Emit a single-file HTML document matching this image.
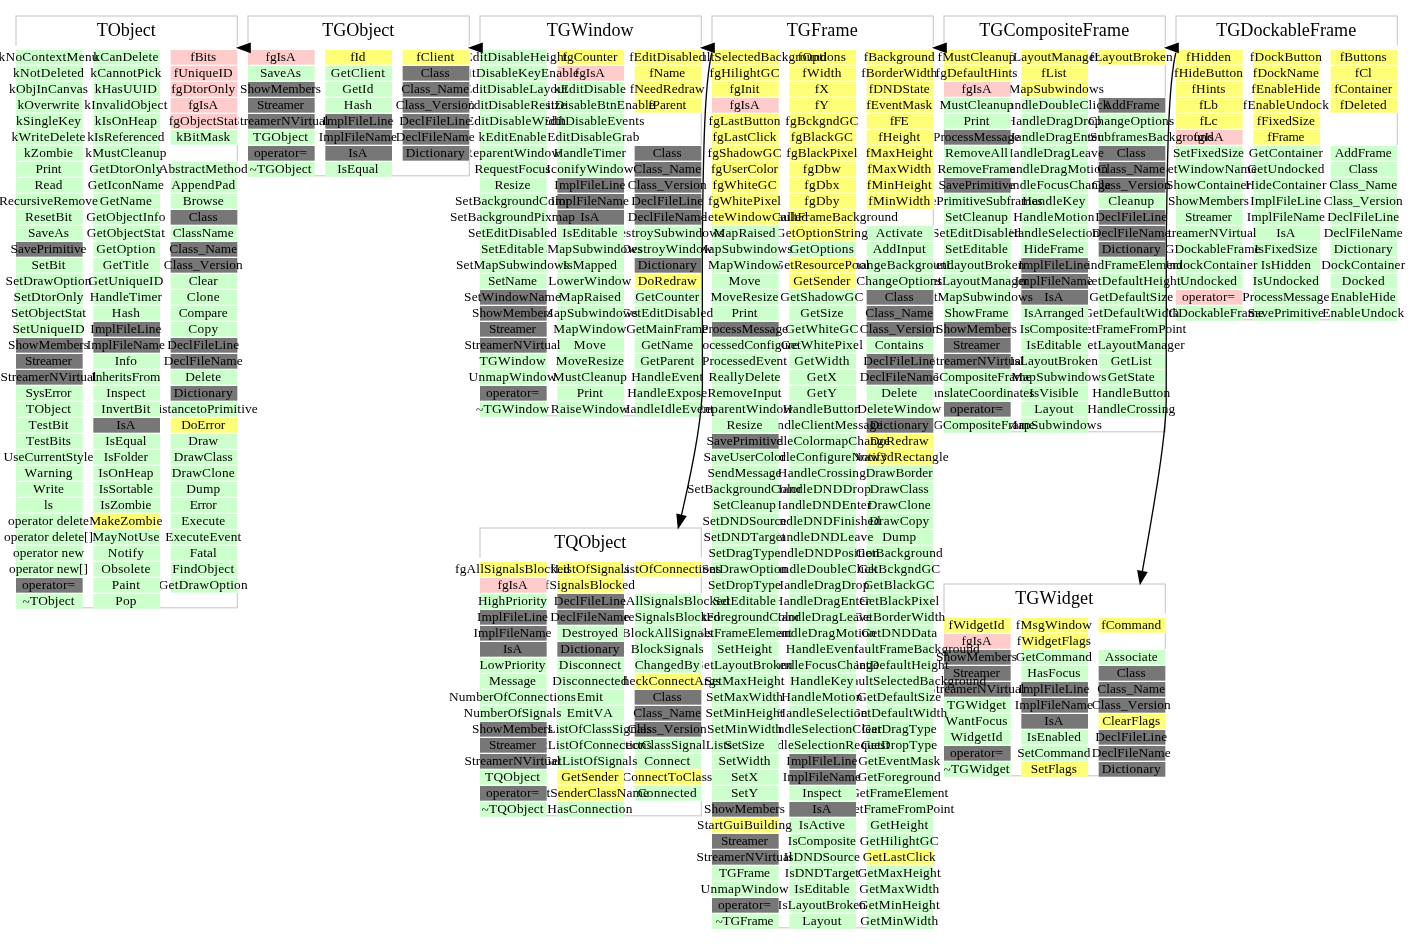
<!DOCTYPE html>
<html lang="en">
<head>
<meta charset="utf-8">
<title>TGDockableFrame inheritance</title>
<style>
html,body{margin:0;padding:0;background:#fff;}
body{width:1413px;height:944px;overflow:hidden;}
svg{display:block;}
text{font-family:"Liberation Serif","Times New Roman",Times,serif;font-size:13.33px;text-anchor:middle;fill:#000;font-kerning:none;}
text.t{font-size:18.1px;}
rect.b{fill:#fff;stroke:#d3d3d3;stroke-width:1.33;}
rect.g{fill:#ccffcc}rect.y{fill:#ffff77}rect.p{fill:#ffcccc}rect.x{fill:#777777}
.a{fill:#000;stroke:#000;stroke-width:1.33;}
.e{fill:none;stroke:#000;stroke-width:1.33;}
</style>
</head>
<body>
<svg width="1413" height="944" viewBox="0 0 1413 944">
<g>
<rect class="b" x="944" y="584" width="221.33" height="191.77"/>
<text class="t" x="1054.17" y="604" textLength="78">TGWidget</text>
<rect fill="#fff" x="942.5" y="613.4" width="224.33" height="4.6"/>
<rect fill="#fff" x="1165.03" y="617" width="1.5" height="16.27"/>
<rect fill="#fff" x="1165.03" y="649" width="1.5" height="128.27"/>
<rect class="y" x="1098.67" y="618" width="66.67" height="14.67"/>
<text x="1131.2" y="628.6" textLength="60">fCommand</text>
<rect class="g" x="1098.67" y="650" width="66.67" height="14.67"/>
<text x="1131.2" y="660.6" textLength="53">Associate</text>
<rect class="x" x="1098.67" y="666" width="66.67" height="14.67"/>
<text x="1131.2" y="676.6" textLength="29">Class</text>
<rect class="x" x="1098.67" y="682" width="66.67" height="14.67"/>
<text x="1131.2" y="692.6" textLength="68">Class_Name</text>
<rect class="x" x="1098.67" y="698" width="66.67" height="14.67"/>
<text x="1131.2" y="708.6" textLength="79">Class_Version</text>
<rect class="y" x="1098.67" y="714" width="66.67" height="14.67"/>
<text x="1131.2" y="724.6" textLength="58">ClearFlags</text>
<rect class="x" x="1098.67" y="730" width="66.67" height="14.67"/>
<text x="1131.2" y="740.6" textLength="72">DeclFileLine</text>
<rect class="x" x="1098.67" y="746" width="66.67" height="14.67"/>
<text x="1131.2" y="756.6" textLength="79">DeclFileName</text>
<rect class="x" x="1098.67" y="762" width="66.67" height="14.67"/>
<text x="1131.2" y="772.6" textLength="59">Dictionary</text>
<rect class="y" x="1021.33" y="618" width="66.67" height="14.67"/>
<text x="1053.87" y="628.6" textLength="76">fMsgWindow</text>
<rect class="y" x="1021.33" y="634" width="66.67" height="14.67"/>
<text x="1053.87" y="644.6" textLength="74">fWidgetFlags</text>
<rect class="g" x="1021.33" y="650" width="66.67" height="14.67"/>
<text x="1053.87" y="660.6" textLength="76">GetCommand</text>
<rect class="g" x="1021.33" y="666" width="66.67" height="14.67"/>
<text x="1053.87" y="676.6" textLength="53">HasFocus</text>
<rect class="x" x="1021.33" y="682" width="66.67" height="14.67"/>
<text x="1053.87" y="692.6" textLength="71">ImplFileLine</text>
<rect class="x" x="1021.33" y="698" width="66.67" height="14.67"/>
<text x="1053.87" y="708.6" textLength="78">ImplFileName</text>
<rect class="x" x="1021.33" y="714" width="66.67" height="14.67"/>
<text x="1053.87" y="724.6" textLength="19">IsA</text>
<rect class="g" x="1021.33" y="730" width="66.67" height="14.67"/>
<text x="1053.87" y="740.6" textLength="54">IsEnabled</text>
<rect class="g" x="1021.33" y="746" width="66.67" height="14.67"/>
<text x="1053.87" y="756.6" textLength="73">SetCommand</text>
<rect class="y" x="1021.33" y="762" width="66.67" height="14.67"/>
<text x="1053.87" y="772.6" textLength="46">SetFlags</text>
<rect fill="#fff" x="942.8" y="617" width="1.5" height="160.27"/>
<rect class="y" x="944" y="618" width="66.67" height="14.67"/>
<text x="976.53" y="628.6" textLength="56">fWidgetId</text>
<rect class="p" x="944" y="634" width="66.67" height="14.67"/>
<text x="976.53" y="644.6" textLength="30">fgIsA</text>
<rect class="x" x="944" y="650" width="66.67" height="14.67"/>
<text x="976.53" y="660.6" textLength="81">ShowMembers</text>
<rect class="x" x="944" y="666" width="66.67" height="14.67"/>
<text x="976.53" y="676.6" textLength="47">Streamer</text>
<rect class="x" x="944" y="682" width="66.67" height="14.67"/>
<text x="976.53" y="692.6" textLength="96">StreamerNVirtual</text>
<rect class="g" x="944" y="698" width="66.67" height="14.67"/>
<text x="976.53" y="708.6" textLength="59">TGWidget</text>
<rect class="g" x="944" y="714" width="66.67" height="14.67"/>
<text x="976.53" y="724.6" textLength="62">WantFocus</text>
<rect class="g" x="944" y="730" width="66.67" height="14.67"/>
<text x="976.53" y="740.6" textLength="52">WidgetId</text>
<rect class="x" x="944" y="746" width="66.67" height="14.67"/>
<text x="976.53" y="756.6" textLength="53">operator=</text>
<rect class="g" x="944" y="762" width="66.67" height="14.67"/>
<text x="976.53" y="772.6" textLength="66"><tspan dy="1.2">~</tspan><tspan dy="-1.2">TGWidget</tspan></text>
</g>
<g>
<rect class="b" x="1176" y="16" width="221.33" height="303.77"/>
<text class="t" x="1286.17" y="36" textLength="140">TGDockableFrame</text>
<rect fill="#fff" x="1174.5" y="45.4" width="224.33" height="4.6"/>
<rect fill="#fff" x="1397.03" y="49" width="1.5" height="64.27"/>
<rect fill="#fff" x="1397.03" y="145" width="1.5" height="176.27"/>
<rect class="y" x="1330.67" y="50" width="66.67" height="14.67"/>
<text x="1363.2" y="60.6" textLength="47">fButtons</text>
<rect class="y" x="1330.67" y="66" width="66.67" height="14.67"/>
<text x="1363.2" y="76.6" textLength="17">fCl</text>
<rect class="y" x="1330.67" y="82" width="66.67" height="14.67"/>
<text x="1363.2" y="92.6" textLength="58">fContainer</text>
<rect class="y" x="1330.67" y="98" width="66.67" height="14.67"/>
<text x="1363.2" y="108.6" textLength="47">fDeleted</text>
<rect class="g" x="1330.67" y="146" width="66.67" height="14.67"/>
<text x="1363.2" y="156.6" textLength="57">AddFrame</text>
<rect class="g" x="1330.67" y="162" width="66.67" height="14.67"/>
<text x="1363.2" y="172.6" textLength="29">Class</text>
<rect class="g" x="1330.67" y="178" width="66.67" height="14.67"/>
<text x="1363.2" y="188.6" textLength="68">Class_Name</text>
<rect class="g" x="1330.67" y="194" width="66.67" height="14.67"/>
<text x="1363.2" y="204.6" textLength="79">Class_Version</text>
<rect class="g" x="1330.67" y="210" width="66.67" height="14.67"/>
<text x="1363.2" y="220.6" textLength="72">DeclFileLine</text>
<rect class="g" x="1330.67" y="226" width="66.67" height="14.67"/>
<text x="1363.2" y="236.6" textLength="79">DeclFileName</text>
<rect class="g" x="1330.67" y="242" width="66.67" height="14.67"/>
<text x="1363.2" y="252.6" textLength="59">Dictionary</text>
<rect class="g" x="1330.67" y="258" width="66.67" height="14.67"/>
<text x="1363.2" y="268.6" textLength="84">DockContainer</text>
<rect class="g" x="1330.67" y="274" width="66.67" height="14.67"/>
<text x="1363.2" y="284.6" textLength="43">Docked</text>
<rect class="g" x="1330.67" y="290" width="66.67" height="14.67"/>
<text x="1363.2" y="300.6" textLength="65">EnableHide</text>
<rect class="g" x="1330.67" y="306" width="66.67" height="14.67"/>
<text x="1363.2" y="316.6" textLength="82">EnableUndock</text>
<rect class="y" x="1253.33" y="50" width="66.67" height="14.67"/>
<text x="1285.87" y="60.6" textLength="72">fDockButton</text>
<rect class="y" x="1253.33" y="66" width="66.67" height="14.67"/>
<text x="1285.87" y="76.6" textLength="66">fDockName</text>
<rect class="y" x="1253.33" y="82" width="66.67" height="14.67"/>
<text x="1285.87" y="92.6" textLength="69">fEnableHide</text>
<rect class="y" x="1253.33" y="98" width="66.67" height="14.67"/>
<text x="1285.87" y="108.6" textLength="86">fEnableUndock</text>
<rect class="y" x="1253.33" y="114" width="66.67" height="14.67"/>
<text x="1285.87" y="124.6" textLength="58">fFixedSize</text>
<rect class="y" x="1253.33" y="130" width="66.67" height="14.67"/>
<text x="1285.87" y="140.6" textLength="37">fFrame</text>
<rect class="g" x="1253.33" y="146" width="66.67" height="14.67"/>
<text x="1285.87" y="156.6" textLength="74">GetContainer</text>
<rect class="g" x="1253.33" y="162" width="66.67" height="14.67"/>
<text x="1285.87" y="172.6" textLength="77">GetUndocked</text>
<rect class="g" x="1253.33" y="178" width="66.67" height="14.67"/>
<text x="1285.87" y="188.6" textLength="81">HideContainer</text>
<rect class="g" x="1253.33" y="194" width="66.67" height="14.67"/>
<text x="1285.87" y="204.6" textLength="71">ImplFileLine</text>
<rect class="g" x="1253.33" y="210" width="66.67" height="14.67"/>
<text x="1285.87" y="220.6" textLength="78">ImplFileName</text>
<rect class="g" x="1253.33" y="226" width="66.67" height="14.67"/>
<text x="1285.87" y="236.6" textLength="19">IsA</text>
<rect class="g" x="1253.33" y="242" width="66.67" height="14.67"/>
<text x="1285.87" y="252.6" textLength="63">IsFixedSize</text>
<rect class="g" x="1253.33" y="258" width="66.67" height="14.67"/>
<text x="1285.87" y="268.6" textLength="50">IsHidden</text>
<rect class="g" x="1253.33" y="274" width="66.67" height="14.67"/>
<text x="1285.87" y="284.6" textLength="66">IsUndocked</text>
<rect class="g" x="1253.33" y="290" width="66.67" height="14.67"/>
<text x="1285.87" y="300.6" textLength="87">ProcessMessage</text>
<rect class="g" x="1253.33" y="306" width="66.67" height="14.67"/>
<text x="1285.87" y="316.6" textLength="76">SavePrimitive</text>
<rect fill="#fff" x="1174.8" y="49" width="1.5" height="272.27"/>
<rect class="y" x="1176" y="50" width="66.67" height="14.67"/>
<text x="1208.53" y="60.6" textLength="45">fHidden</text>
<rect class="y" x="1176" y="66" width="66.67" height="14.67"/>
<text x="1208.53" y="76.6" textLength="69">fHideButton</text>
<rect class="y" x="1176" y="82" width="66.67" height="14.67"/>
<text x="1208.53" y="92.6" textLength="34">fHints</text>
<rect class="y" x="1176" y="98" width="66.67" height="14.67"/>
<text x="1208.53" y="108.6" textLength="19">fLb</text>
<rect class="y" x="1176" y="114" width="66.67" height="14.67"/>
<text x="1208.53" y="124.6" textLength="18">fLc</text>
<rect class="p" x="1176" y="130" width="66.67" height="14.67"/>
<text x="1208.53" y="140.6" textLength="30">fgIsA</text>
<rect class="g" x="1176" y="146" width="66.67" height="14.67"/>
<text x="1208.53" y="156.6" textLength="71">SetFixedSize</text>
<rect class="g" x="1176" y="162" width="66.67" height="14.67"/>
<text x="1208.53" y="172.6" textLength="97">SetWindowName</text>
<rect class="g" x="1176" y="178" width="66.67" height="14.67"/>
<text x="1208.53" y="188.6" textLength="85">ShowContainer</text>
<rect class="g" x="1176" y="194" width="66.67" height="14.67"/>
<text x="1208.53" y="204.6" textLength="81">ShowMembers</text>
<rect class="g" x="1176" y="210" width="66.67" height="14.67"/>
<text x="1208.53" y="220.6" textLength="47">Streamer</text>
<rect class="g" x="1176" y="226" width="66.67" height="14.67"/>
<text x="1208.53" y="236.6" textLength="96">StreamerNVirtual</text>
<rect class="g" x="1176" y="242" width="66.67" height="14.67"/>
<text x="1208.53" y="252.6" textLength="104">TGDockableFrame</text>
<rect class="g" x="1176" y="258" width="66.67" height="14.67"/>
<text x="1208.53" y="268.6" textLength="98">UndockContainer</text>
<rect class="g" x="1176" y="274" width="66.67" height="14.67"/>
<text x="1208.53" y="284.6" textLength="57">Undocked</text>
<rect class="p" x="1176" y="290" width="66.67" height="14.67"/>
<text x="1208.53" y="300.6" textLength="53">operator=</text>
<rect class="g" x="1176" y="306" width="66.67" height="14.67"/>
<text x="1208.53" y="316.6" textLength="111"><tspan dy="1.2">~</tspan><tspan dy="-1.2">TGDockableFrame</tspan></text>
</g>
<g>
<rect class="b" x="944" y="16" width="221.33" height="415.77"/>
<text class="t" x="1054.17" y="36" textLength="150">TGCompositeFrame</text>
<rect fill="#fff" x="942.5" y="45.4" width="224.33" height="4.6"/>
<rect fill="#fff" x="1165.03" y="49" width="1.5" height="16.27"/>
<rect fill="#fff" x="1165.03" y="97" width="1.5" height="320.27"/>
<rect class="y" x="1098.67" y="50" width="66.67" height="14.67"/>
<text x="1131.2" y="60.6" textLength="83">fLayoutBroken</text>
<rect class="x" x="1098.67" y="98" width="66.67" height="14.67"/>
<text x="1131.2" y="108.6" textLength="57">AddFrame</text>
<rect class="g" x="1098.67" y="114" width="66.67" height="14.67"/>
<text x="1131.2" y="124.6" textLength="86">ChangeOptions</text>
<rect class="g" x="1098.67" y="130" width="66.67" height="14.67"/>
<text x="1131.2" y="140.6" textLength="165">ChangeSubframesBackground</text>
<rect class="x" x="1098.67" y="146" width="66.67" height="14.67"/>
<text x="1131.2" y="156.6" textLength="29">Class</text>
<rect class="x" x="1098.67" y="162" width="66.67" height="14.67"/>
<text x="1131.2" y="172.6" textLength="68">Class_Name</text>
<rect class="x" x="1098.67" y="178" width="66.67" height="14.67"/>
<text x="1131.2" y="188.6" textLength="79">Class_Version</text>
<rect class="g" x="1098.67" y="194" width="66.67" height="14.67"/>
<text x="1131.2" y="204.6" textLength="46">Cleanup</text>
<rect class="x" x="1098.67" y="210" width="66.67" height="14.67"/>
<text x="1131.2" y="220.6" textLength="72">DeclFileLine</text>
<rect class="x" x="1098.67" y="226" width="66.67" height="14.67"/>
<text x="1131.2" y="236.6" textLength="79">DeclFileName</text>
<rect class="x" x="1098.67" y="242" width="66.67" height="14.67"/>
<text x="1131.2" y="252.6" textLength="59">Dictionary</text>
<rect class="g" x="1098.67" y="258" width="66.67" height="14.67"/>
<text x="1131.2" y="268.6" textLength="103">FindFrameElement</text>
<rect class="g" x="1098.67" y="274" width="66.67" height="14.67"/>
<text x="1131.2" y="284.6" textLength="99">GetDefaultHeight</text>
<rect class="g" x="1098.67" y="290" width="66.67" height="14.67"/>
<text x="1131.2" y="300.6" textLength="84">GetDefaultSize</text>
<rect class="g" x="1098.67" y="306" width="66.67" height="14.67"/>
<text x="1131.2" y="316.6" textLength="96">GetDefaultWidth</text>
<rect class="g" x="1098.67" y="322" width="66.67" height="14.67"/>
<text x="1131.2" y="332.6" textLength="110">GetFrameFromPoint</text>
<rect class="g" x="1098.67" y="338" width="66.67" height="14.67"/>
<text x="1131.2" y="348.6" textLength="107">GetLayoutManager</text>
<rect class="g" x="1098.67" y="354" width="66.67" height="14.67"/>
<text x="1131.2" y="364.6" textLength="41">GetList</text>
<rect class="g" x="1098.67" y="370" width="66.67" height="14.67"/>
<text x="1131.2" y="380.6" textLength="47">GetState</text>
<rect class="g" x="1098.67" y="386" width="66.67" height="14.67"/>
<text x="1131.2" y="396.6" textLength="78">HandleButton</text>
<rect class="g" x="1098.67" y="402" width="66.67" height="14.67"/>
<text x="1131.2" y="412.6" textLength="88">HandleCrossing</text>
<rect class="y" x="1021.33" y="50" width="66.67" height="14.67"/>
<text x="1053.87" y="60.6" textLength="91">fLayoutManager</text>
<rect class="y" x="1021.33" y="66" width="66.67" height="14.67"/>
<text x="1053.87" y="76.6" textLength="25">fList</text>
<rect class="y" x="1021.33" y="82" width="66.67" height="14.67"/>
<text x="1053.87" y="92.6" textLength="100">fMapSubwindows</text>
<rect class="g" x="1021.33" y="98" width="66.67" height="14.67"/>
<text x="1053.87" y="108.6" textLength="111">HandleDoubleClick</text>
<rect class="g" x="1021.33" y="114" width="66.67" height="14.67"/>
<text x="1053.87" y="124.6" textLength="95">HandleDragDrop</text>
<rect class="g" x="1021.33" y="130" width="66.67" height="14.67"/>
<text x="1053.87" y="140.6" textLength="96">HandleDragEnter</text>
<rect class="g" x="1021.33" y="146" width="66.67" height="14.67"/>
<text x="1053.87" y="156.6" textLength="100">HandleDragLeave</text>
<rect class="g" x="1021.33" y="162" width="66.67" height="14.67"/>
<text x="1053.87" y="172.6" textLength="108">HandleDragMotion</text>
<rect class="g" x="1021.33" y="178" width="66.67" height="14.67"/>
<text x="1053.87" y="188.6" textLength="114">HandleFocusChange</text>
<rect class="g" x="1021.33" y="194" width="66.67" height="14.67"/>
<text x="1053.87" y="204.6" textLength="63">HandleKey</text>
<rect class="g" x="1021.33" y="210" width="66.67" height="14.67"/>
<text x="1053.87" y="220.6" textLength="81">HandleMotion</text>
<rect class="g" x="1021.33" y="226" width="66.67" height="14.67"/>
<text x="1053.87" y="236.6" textLength="91">HandleSelection</text>
<rect class="g" x="1021.33" y="242" width="66.67" height="14.67"/>
<text x="1053.87" y="252.6" textLength="60">HideFrame</text>
<rect class="x" x="1021.33" y="258" width="66.67" height="14.67"/>
<text x="1053.87" y="268.6" textLength="71">ImplFileLine</text>
<rect class="x" x="1021.33" y="274" width="66.67" height="14.67"/>
<text x="1053.87" y="284.6" textLength="78">ImplFileName</text>
<rect class="x" x="1021.33" y="290" width="66.67" height="14.67"/>
<text x="1053.87" y="300.6" textLength="19">IsA</text>
<rect class="g" x="1021.33" y="306" width="66.67" height="14.67"/>
<text x="1053.87" y="316.6" textLength="60">IsArranged</text>
<rect class="g" x="1021.33" y="322" width="66.67" height="14.67"/>
<text x="1053.87" y="332.6" textLength="68">IsComposite</text>
<rect class="g" x="1021.33" y="338" width="66.67" height="14.67"/>
<text x="1053.87" y="348.6" textLength="55">IsEditable</text>
<rect class="g" x="1021.33" y="354" width="66.67" height="14.67"/>
<text x="1053.87" y="364.6" textLength="88">IsLayoutBroken</text>
<rect class="g" x="1021.33" y="370" width="66.67" height="14.67"/>
<text x="1053.87" y="380.6" textLength="105">IsMapSubwindows</text>
<rect class="g" x="1021.33" y="386" width="66.67" height="14.67"/>
<text x="1053.87" y="396.6" textLength="49">IsVisible</text>
<rect class="g" x="1021.33" y="402" width="66.67" height="14.67"/>
<text x="1053.87" y="412.6" textLength="39">Layout</text>
<rect class="g" x="1021.33" y="418" width="66.67" height="14.67"/>
<text x="1053.87" y="428.6" textLength="96">MapSubwindows</text>
<rect fill="#fff" x="942.8" y="49" width="1.5" height="384.27"/>
<rect class="y" x="944" y="50" width="66.67" height="14.67"/>
<text x="976.53" y="60.6" textLength="78">fMustCleanup</text>
<rect class="y" x="944" y="66" width="66.67" height="14.67"/>
<text x="976.53" y="76.6" textLength="82">fgDefaultHints</text>
<rect class="p" x="944" y="82" width="66.67" height="14.67"/>
<text x="976.53" y="92.6" textLength="30">fgIsA</text>
<rect class="g" x="944" y="98" width="66.67" height="14.67"/>
<text x="976.53" y="108.6" textLength="74">MustCleanup</text>
<rect class="g" x="944" y="114" width="66.67" height="14.67"/>
<text x="976.53" y="124.6" textLength="26">Print</text>
<rect class="x" x="944" y="130" width="66.67" height="14.67"/>
<text x="976.53" y="140.6" textLength="87">ProcessMessage</text>
<rect class="g" x="944" y="146" width="66.67" height="14.67"/>
<text x="976.53" y="156.6" textLength="63">RemoveAll</text>
<rect class="g" x="944" y="162" width="66.67" height="14.67"/>
<text x="976.53" y="172.6" textLength="78">RemoveFrame</text>
<rect class="x" x="944" y="178" width="66.67" height="14.67"/>
<text x="976.53" y="188.6" textLength="76">SavePrimitive</text>
<rect class="g" x="944" y="194" width="66.67" height="14.67"/>
<text x="976.53" y="204.6" textLength="132">SavePrimitiveSubframes</text>
<rect class="g" x="944" y="210" width="66.67" height="14.67"/>
<text x="976.53" y="220.6" textLength="63">SetCleanup</text>
<rect class="g" x="944" y="226" width="66.67" height="14.67"/>
<text x="976.53" y="236.6" textLength="89">SetEditDisabled</text>
<rect class="g" x="944" y="242" width="66.67" height="14.67"/>
<text x="976.53" y="252.6" textLength="63">SetEditable</text>
<rect class="g" x="944" y="258" width="66.67" height="14.67"/>
<text x="976.53" y="268.6" textLength="96">SetLayoutBroken</text>
<rect class="g" x="944" y="274" width="66.67" height="14.67"/>
<text x="976.53" y="284.6" textLength="104">SetLayoutManager</text>
<rect class="g" x="944" y="290" width="66.67" height="14.67"/>
<text x="976.53" y="300.6" textLength="113">SetMapSubwindows</text>
<rect class="g" x="944" y="306" width="66.67" height="14.67"/>
<text x="976.53" y="316.6" textLength="64">ShowFrame</text>
<rect class="x" x="944" y="322" width="66.67" height="14.67"/>
<text x="976.53" y="332.6" textLength="81">ShowMembers</text>
<rect class="x" x="944" y="338" width="66.67" height="14.67"/>
<text x="976.53" y="348.6" textLength="47">Streamer</text>
<rect class="x" x="944" y="354" width="66.67" height="14.67"/>
<text x="976.53" y="364.6" textLength="96">StreamerNVirtual</text>
<rect class="g" x="944" y="370" width="66.67" height="14.67"/>
<text x="976.53" y="380.6" textLength="110">TGCompositeFrame</text>
<rect class="g" x="944" y="386" width="66.67" height="14.67"/>
<text x="976.53" y="396.6" textLength="116">TranslateCoordinates</text>
<rect class="x" x="944" y="402" width="66.67" height="14.67"/>
<text x="976.53" y="412.6" textLength="53">operator=</text>
<rect class="g" x="944" y="418" width="66.67" height="14.67"/>
<text x="976.53" y="428.6" textLength="117"><tspan dy="1.2">~</tspan><tspan dy="-1.2">TGCompositeFrame</tspan></text>
</g>
<g>
<rect class="b" x="712" y="16" width="221.33" height="911.77"/>
<text class="t" x="822.17" y="36" textLength="71">TGFrame</text>
<rect fill="#fff" x="710.5" y="45.4" width="224.33" height="4.6"/>
<rect fill="#fff" x="933.03" y="49" width="1.5" height="160.27"/>
<rect fill="#fff" x="933.03" y="225" width="1.5" height="704.27"/>
<rect class="y" x="866.67" y="50" width="66.67" height="14.67"/>
<text x="899.2" y="60.6" textLength="71">fBackground</text>
<rect class="y" x="866.67" y="66" width="66.67" height="14.67"/>
<text x="899.2" y="76.6" textLength="76">fBorderWidth</text>
<rect class="y" x="866.67" y="82" width="66.67" height="14.67"/>
<text x="899.2" y="92.6" textLength="61">fDNDState</text>
<rect class="y" x="866.67" y="98" width="66.67" height="14.67"/>
<text x="899.2" y="108.6" textLength="66">fEventMask</text>
<rect class="y" x="866.67" y="114" width="66.67" height="14.67"/>
<text x="899.2" y="124.6" textLength="19">fFE</text>
<rect class="y" x="866.67" y="130" width="66.67" height="14.67"/>
<text x="899.2" y="140.6" textLength="42">fHeight</text>
<rect class="y" x="866.67" y="146" width="66.67" height="14.67"/>
<text x="899.2" y="156.6" textLength="67">fMaxHeight</text>
<rect class="y" x="866.67" y="162" width="66.67" height="14.67"/>
<text x="899.2" y="172.6" textLength="64">fMaxWidth</text>
<rect class="y" x="866.67" y="178" width="66.67" height="14.67"/>
<text x="899.2" y="188.6" textLength="65">fMinHeight</text>
<rect class="y" x="866.67" y="194" width="66.67" height="14.67"/>
<text x="899.2" y="204.6" textLength="62">fMinWidth</text>
<rect class="g" x="866.67" y="226" width="66.67" height="14.67"/>
<text x="899.2" y="236.6" textLength="47">Activate</text>
<rect class="g" x="866.67" y="242" width="66.67" height="14.67"/>
<text x="899.2" y="252.6" textLength="53">AddInput</text>
<rect class="g" x="866.67" y="258" width="66.67" height="14.67"/>
<text x="899.2" y="268.6" textLength="109">ChangeBackground</text>
<rect class="g" x="866.67" y="274" width="66.67" height="14.67"/>
<text x="899.2" y="284.6" textLength="86">ChangeOptions</text>
<rect class="x" x="866.67" y="290" width="66.67" height="14.67"/>
<text x="899.2" y="300.6" textLength="29">Class</text>
<rect class="x" x="866.67" y="306" width="66.67" height="14.67"/>
<text x="899.2" y="316.6" textLength="68">Class_Name</text>
<rect class="x" x="866.67" y="322" width="66.67" height="14.67"/>
<text x="899.2" y="332.6" textLength="79">Class_Version</text>
<rect class="g" x="866.67" y="338" width="66.67" height="14.67"/>
<text x="899.2" y="348.6" textLength="49">Contains</text>
<rect class="x" x="866.67" y="354" width="66.67" height="14.67"/>
<text x="899.2" y="364.6" textLength="72">DeclFileLine</text>
<rect class="x" x="866.67" y="370" width="66.67" height="14.67"/>
<text x="899.2" y="380.6" textLength="79">DeclFileName</text>
<rect class="g" x="866.67" y="386" width="66.67" height="14.67"/>
<text x="899.2" y="396.6" textLength="36">Delete</text>
<rect class="g" x="866.67" y="402" width="66.67" height="14.67"/>
<text x="899.2" y="412.6" textLength="84">DeleteWindow</text>
<rect class="x" x="866.67" y="418" width="66.67" height="14.67"/>
<text x="899.2" y="428.6" textLength="59">Dictionary</text>
<rect class="y" x="866.67" y="434" width="66.67" height="14.67"/>
<text x="899.2" y="444.6" textLength="59">DoRedraw</text>
<rect class="y" x="866.67" y="450" width="66.67" height="14.67"/>
<text x="899.2" y="460.6" textLength="99">Draw3dRectangle</text>
<rect class="g" x="866.67" y="466" width="66.67" height="14.67"/>
<text x="899.2" y="476.6" textLength="67">DrawBorder</text>
<rect class="g" x="866.67" y="482" width="66.67" height="14.67"/>
<text x="899.2" y="492.6" textLength="59">DrawClass</text>
<rect class="g" x="866.67" y="498" width="66.67" height="14.67"/>
<text x="899.2" y="508.6" textLength="63">DrawClone</text>
<rect class="g" x="866.67" y="514" width="66.67" height="14.67"/>
<text x="899.2" y="524.6" textLength="60">DrawCopy</text>
<rect class="g" x="866.67" y="530" width="66.67" height="14.67"/>
<text x="899.2" y="540.6" textLength="34">Dump</text>
<rect class="g" x="866.67" y="546" width="66.67" height="14.67"/>
<text x="899.2" y="556.6" textLength="87">GetBackground</text>
<rect class="g" x="866.67" y="562" width="66.67" height="14.67"/>
<text x="899.2" y="572.6" textLength="82">GetBckgndGC</text>
<rect class="g" x="866.67" y="578" width="66.67" height="14.67"/>
<text x="899.2" y="588.6" textLength="71">GetBlackGC</text>
<rect class="g" x="866.67" y="594" width="66.67" height="14.67"/>
<text x="899.2" y="604.6" textLength="80">GetBlackPixel</text>
<rect class="g" x="866.67" y="610" width="66.67" height="14.67"/>
<text x="899.2" y="620.6" textLength="92">GetBorderWidth</text>
<rect class="g" x="866.67" y="626" width="66.67" height="14.67"/>
<text x="899.2" y="636.6" textLength="76">GetDNDData</text>
<rect class="g" x="866.67" y="642" width="66.67" height="14.67"/>
<text x="899.2" y="652.6" textLength="161">GetDefaultFrameBackground</text>
<rect class="g" x="866.67" y="658" width="66.67" height="14.67"/>
<text x="899.2" y="668.6" textLength="99">GetDefaultHeight</text>
<rect class="g" x="866.67" y="674" width="66.67" height="14.67"/>
<text x="899.2" y="684.6" textLength="174">GetDefaultSelectedBackground</text>
<rect class="g" x="866.67" y="690" width="66.67" height="14.67"/>
<text x="899.2" y="700.6" textLength="84">GetDefaultSize</text>
<rect class="g" x="866.67" y="706" width="66.67" height="14.67"/>
<text x="899.2" y="716.6" textLength="96">GetDefaultWidth</text>
<rect class="g" x="866.67" y="722" width="66.67" height="14.67"/>
<text x="899.2" y="732.6" textLength="75">GetDragType</text>
<rect class="g" x="866.67" y="738" width="66.67" height="14.67"/>
<text x="899.2" y="748.6" textLength="76">GetDropType</text>
<rect class="g" x="866.67" y="754" width="66.67" height="14.67"/>
<text x="899.2" y="764.6" textLength="82">GetEventMask</text>
<rect class="g" x="866.67" y="770" width="66.67" height="14.67"/>
<text x="899.2" y="780.6" textLength="83">GetForeground</text>
<rect class="g" x="866.67" y="786" width="66.67" height="14.67"/>
<text x="899.2" y="796.6" textLength="98">GetFrameElement</text>
<rect class="g" x="866.67" y="802" width="66.67" height="14.67"/>
<text x="899.2" y="812.6" textLength="110">GetFrameFromPoint</text>
<rect class="g" x="866.67" y="818" width="66.67" height="14.67"/>
<text x="899.2" y="828.6" textLength="58">GetHeight</text>
<rect class="g" x="866.67" y="834" width="66.67" height="14.67"/>
<text x="899.2" y="844.6" textLength="79">GetHilightGC</text>
<rect class="y" x="866.67" y="850" width="66.67" height="14.67"/>
<text x="899.2" y="860.6" textLength="73">GetLastClick</text>
<rect class="g" x="866.67" y="866" width="66.67" height="14.67"/>
<text x="899.2" y="876.6" textLength="83">GetMaxHeight</text>
<rect class="g" x="866.67" y="882" width="66.67" height="14.67"/>
<text x="899.2" y="892.6" textLength="80">GetMaxWidth</text>
<rect class="g" x="866.67" y="898" width="66.67" height="14.67"/>
<text x="899.2" y="908.6" textLength="81">GetMinHeight</text>
<rect class="g" x="866.67" y="914" width="66.67" height="14.67"/>
<text x="899.2" y="924.6" textLength="78">GetMinWidth</text>
<rect class="y" x="789.33" y="50" width="66.67" height="14.67"/>
<text x="821.87" y="60.6" textLength="48">fOptions</text>
<rect class="y" x="789.33" y="66" width="66.67" height="14.67"/>
<text x="821.87" y="76.6" textLength="39">fWidth</text>
<rect class="y" x="789.33" y="82" width="66.67" height="14.67"/>
<text x="821.87" y="92.6" textLength="14">fX</text>
<rect class="y" x="789.33" y="98" width="66.67" height="14.67"/>
<text x="821.87" y="108.6" textLength="14">fY</text>
<rect class="y" x="789.33" y="114" width="66.67" height="14.67"/>
<text x="821.87" y="124.6" textLength="73">fgBckgndGC</text>
<rect class="y" x="789.33" y="130" width="66.67" height="14.67"/>
<text x="821.87" y="140.6" textLength="62">fgBlackGC</text>
<rect class="y" x="789.33" y="146" width="66.67" height="14.67"/>
<text x="821.87" y="156.6" textLength="71">fgBlackPixel</text>
<rect class="y" x="789.33" y="162" width="66.67" height="14.67"/>
<text x="821.87" y="172.6" textLength="38">fgDbw</text>
<rect class="y" x="789.33" y="178" width="66.67" height="14.67"/>
<text x="821.87" y="188.6" textLength="35">fgDbx</text>
<rect class="y" x="789.33" y="194" width="66.67" height="14.67"/>
<text x="821.87" y="204.6" textLength="35">fgDby</text>
<rect class="y" x="789.33" y="210" width="66.67" height="14.67"/>
<text x="821.87" y="220.6" textLength="152">fgDefaultFrameBackground</text>
<rect class="y" x="789.33" y="226" width="66.67" height="14.67"/>
<text x="821.87" y="236.6" textLength="92">GetOptionString</text>
<rect class="g" x="789.33" y="242" width="66.67" height="14.67"/>
<text x="821.87" y="252.6" textLength="64">GetOptions</text>
<rect class="y" x="789.33" y="258" width="66.67" height="14.67"/>
<text x="821.87" y="268.6" textLength="95">GetResourcePool</text>
<rect class="y" x="789.33" y="274" width="66.67" height="14.67"/>
<text x="821.87" y="284.6" textLength="57">GetSender</text>
<rect class="g" x="789.33" y="290" width="66.67" height="14.67"/>
<text x="821.87" y="300.6" textLength="83">GetShadowGC</text>
<rect class="g" x="789.33" y="306" width="66.67" height="14.67"/>
<text x="821.87" y="316.6" textLength="43">GetSize</text>
<rect class="g" x="789.33" y="322" width="66.67" height="14.67"/>
<text x="821.87" y="332.6" textLength="73">GetWhiteGC</text>
<rect class="g" x="789.33" y="338" width="66.67" height="14.67"/>
<text x="821.87" y="348.6" textLength="82">GetWhitePixel</text>
<rect class="g" x="789.33" y="354" width="66.67" height="14.67"/>
<text x="821.87" y="364.6" textLength="55">GetWidth</text>
<rect class="g" x="789.33" y="370" width="66.67" height="14.67"/>
<text x="821.87" y="380.6" textLength="30">GetX</text>
<rect class="g" x="789.33" y="386" width="66.67" height="14.67"/>
<text x="821.87" y="396.6" textLength="30">GetY</text>
<rect class="g" x="789.33" y="402" width="66.67" height="14.67"/>
<text x="821.87" y="412.6" textLength="78">HandleButton</text>
<rect class="g" x="789.33" y="418" width="66.67" height="14.67"/>
<text x="821.87" y="428.6" textLength="121">HandleClientMessage</text>
<rect class="g" x="789.33" y="434" width="66.67" height="14.67"/>
<text x="821.87" y="444.6" textLength="136">HandleColormapChange</text>
<rect class="g" x="789.33" y="450" width="66.67" height="14.67"/>
<text x="821.87" y="460.6" textLength="131">HandleConfigureNotify</text>
<rect class="g" x="789.33" y="466" width="66.67" height="14.67"/>
<text x="821.87" y="476.6" textLength="88">HandleCrossing</text>
<rect class="g" x="789.33" y="482" width="66.67" height="14.67"/>
<text x="821.87" y="492.6" textLength="98">HandleDNDDrop</text>
<rect class="g" x="789.33" y="498" width="66.67" height="14.67"/>
<text x="821.87" y="508.6" textLength="99">HandleDNDEnter</text>
<rect class="g" x="789.33" y="514" width="66.67" height="14.67"/>
<text x="821.87" y="524.6" textLength="117">HandleDNDFinished</text>
<rect class="g" x="789.33" y="530" width="66.67" height="14.67"/>
<text x="821.87" y="540.6" textLength="103">HandleDNDLeave</text>
<rect class="g" x="789.33" y="546" width="66.67" height="14.67"/>
<text x="821.87" y="556.6" textLength="115">HandleDNDPosition</text>
<rect class="g" x="789.33" y="562" width="66.67" height="14.67"/>
<text x="821.87" y="572.6" textLength="111">HandleDoubleClick</text>
<rect class="g" x="789.33" y="578" width="66.67" height="14.67"/>
<text x="821.87" y="588.6" textLength="95">HandleDragDrop</text>
<rect class="g" x="789.33" y="594" width="66.67" height="14.67"/>
<text x="821.87" y="604.6" textLength="96">HandleDragEnter</text>
<rect class="g" x="789.33" y="610" width="66.67" height="14.67"/>
<text x="821.87" y="620.6" textLength="100">HandleDragLeave</text>
<rect class="g" x="789.33" y="626" width="66.67" height="14.67"/>
<text x="821.87" y="636.6" textLength="108">HandleDragMotion</text>
<rect class="g" x="789.33" y="642" width="66.67" height="14.67"/>
<text x="821.87" y="652.6" textLength="72">HandleEvent</text>
<rect class="g" x="789.33" y="658" width="66.67" height="14.67"/>
<text x="821.87" y="668.6" textLength="114">HandleFocusChange</text>
<rect class="g" x="789.33" y="674" width="66.67" height="14.67"/>
<text x="821.87" y="684.6" textLength="63">HandleKey</text>
<rect class="g" x="789.33" y="690" width="66.67" height="14.67"/>
<text x="821.87" y="700.6" textLength="81">HandleMotion</text>
<rect class="g" x="789.33" y="706" width="66.67" height="14.67"/>
<text x="821.87" y="716.6" textLength="91">HandleSelection</text>
<rect class="g" x="789.33" y="722" width="66.67" height="14.67"/>
<text x="821.87" y="732.6" textLength="120">HandleSelectionClear</text>
<rect class="g" x="789.33" y="738" width="66.67" height="14.67"/>
<text x="821.87" y="748.6" textLength="135">HandleSelectionRequest</text>
<rect class="x" x="789.33" y="754" width="66.67" height="14.67"/>
<text x="821.87" y="764.6" textLength="71">ImplFileLine</text>
<rect class="x" x="789.33" y="770" width="66.67" height="14.67"/>
<text x="821.87" y="780.6" textLength="78">ImplFileName</text>
<rect class="g" x="789.33" y="786" width="66.67" height="14.67"/>
<text x="821.87" y="796.6" textLength="39">Inspect</text>
<rect class="x" x="789.33" y="802" width="66.67" height="14.67"/>
<text x="821.87" y="812.6" textLength="19">IsA</text>
<rect class="g" x="789.33" y="818" width="66.67" height="14.67"/>
<text x="821.87" y="828.6" textLength="46">IsActive</text>
<rect class="g" x="789.33" y="834" width="66.67" height="14.67"/>
<text x="821.87" y="844.6" textLength="68">IsComposite</text>
<rect class="g" x="789.33" y="850" width="66.67" height="14.67"/>
<text x="821.87" y="860.6" textLength="76">IsDNDSource</text>
<rect class="g" x="789.33" y="866" width="66.67" height="14.67"/>
<text x="821.87" y="876.6" textLength="74">IsDNDTarget</text>
<rect class="g" x="789.33" y="882" width="66.67" height="14.67"/>
<text x="821.87" y="892.6" textLength="55">IsEditable</text>
<rect class="g" x="789.33" y="898" width="66.67" height="14.67"/>
<text x="821.87" y="908.6" textLength="88">IsLayoutBroken</text>
<rect class="g" x="789.33" y="914" width="66.67" height="14.67"/>
<text x="821.87" y="924.6" textLength="39">Layout</text>
<rect fill="#fff" x="710.8" y="49" width="1.5" height="880.27"/>
<rect class="y" x="712" y="50" width="66.67" height="14.67"/>
<text x="744.53" y="60.6" textLength="165">fgDefaultSelectedBackground</text>
<rect class="y" x="712" y="66" width="66.67" height="14.67"/>
<text x="744.53" y="76.6" textLength="70">fgHilightGC</text>
<rect class="y" x="712" y="82" width="66.67" height="14.67"/>
<text x="744.53" y="92.6" textLength="30">fgInit</text>
<rect class="p" x="712" y="98" width="66.67" height="14.67"/>
<text x="744.53" y="108.6" textLength="30">fgIsA</text>
<rect class="y" x="712" y="114" width="66.67" height="14.67"/>
<text x="744.53" y="124.6" textLength="72">fgLastButton</text>
<rect class="y" x="712" y="130" width="66.67" height="14.67"/>
<text x="744.53" y="140.6" textLength="64">fgLastClick</text>
<rect class="y" x="712" y="146" width="66.67" height="14.67"/>
<text x="744.53" y="156.6" textLength="74">fgShadowGC</text>
<rect class="y" x="712" y="162" width="66.67" height="14.67"/>
<text x="744.53" y="172.6" textLength="67">fgUserColor</text>
<rect class="y" x="712" y="178" width="66.67" height="14.67"/>
<text x="744.53" y="188.6" textLength="64">fgWhiteGC</text>
<rect class="y" x="712" y="194" width="66.67" height="14.67"/>
<text x="744.53" y="204.6" textLength="73">fgWhitePixel</text>
<rect class="y" x="712" y="210" width="66.67" height="14.67"/>
<text x="744.53" y="220.6" textLength="127">kDeleteWindowCalled</text>
<rect class="g" x="712" y="226" width="66.67" height="14.67"/>
<text x="744.53" y="236.6" textLength="62">MapRaised</text>
<rect class="g" x="712" y="242" width="66.67" height="14.67"/>
<text x="744.53" y="252.6" textLength="96">MapSubwindows</text>
<rect class="g" x="712" y="258" width="66.67" height="14.67"/>
<text x="744.53" y="268.6" textLength="73">MapWindow</text>
<rect class="g" x="712" y="274" width="66.67" height="14.67"/>
<text x="744.53" y="284.6" textLength="32">Move</text>
<rect class="g" x="712" y="290" width="66.67" height="14.67"/>
<text x="744.53" y="300.6" textLength="68">MoveResize</text>
<rect class="g" x="712" y="306" width="66.67" height="14.67"/>
<text x="744.53" y="316.6" textLength="26">Print</text>
<rect class="x" x="712" y="322" width="66.67" height="14.67"/>
<text x="744.53" y="332.6" textLength="87">ProcessMessage</text>
<rect class="g" x="712" y="338" width="66.67" height="14.67"/>
<text x="744.53" y="348.6" textLength="108">ProcessedConfigure</text>
<rect class="g" x="712" y="354" width="66.67" height="14.67"/>
<text x="744.53" y="364.6" textLength="85">ProcessedEvent</text>
<rect class="g" x="712" y="370" width="66.67" height="14.67"/>
<text x="744.53" y="380.6" textLength="72">ReallyDelete</text>
<rect class="g" x="712" y="386" width="66.67" height="14.67"/>
<text x="744.53" y="396.6" textLength="74">RemoveInput</text>
<rect class="g" x="712" y="402" width="66.67" height="14.67"/>
<text x="744.53" y="412.6" textLength="97">ReparentWindow</text>
<rect class="g" x="712" y="418" width="66.67" height="14.67"/>
<text x="744.53" y="428.6" textLength="36">Resize</text>
<rect class="x" x="712" y="434" width="66.67" height="14.67"/>
<text x="744.53" y="444.6" textLength="76">SavePrimitive</text>
<rect class="g" x="712" y="450" width="66.67" height="14.67"/>
<text x="744.53" y="460.6" textLength="82">SaveUserColor</text>
<rect class="g" x="712" y="466" width="66.67" height="14.67"/>
<text x="744.53" y="476.6" textLength="74">SendMessage</text>
<rect class="g" x="712" y="482" width="66.67" height="14.67"/>
<text x="744.53" y="492.6" textLength="115">SetBackgroundColor</text>
<rect class="g" x="712" y="498" width="66.67" height="14.67"/>
<text x="744.53" y="508.6" textLength="63">SetCleanup</text>
<rect class="g" x="712" y="514" width="66.67" height="14.67"/>
<text x="744.53" y="524.6" textLength="84">SetDNDSource</text>
<rect class="g" x="712" y="530" width="66.67" height="14.67"/>
<text x="744.53" y="540.6" textLength="82">SetDNDTarget</text>
<rect class="g" x="712" y="546" width="66.67" height="14.67"/>
<text x="744.53" y="556.6" textLength="72">SetDragType</text>
<rect class="g" x="712" y="562" width="66.67" height="14.67"/>
<text x="744.53" y="572.6" textLength="86">SetDrawOption</text>
<rect class="g" x="712" y="578" width="66.67" height="14.67"/>
<text x="744.53" y="588.6" textLength="73">SetDropType</text>
<rect class="g" x="712" y="594" width="66.67" height="14.67"/>
<text x="744.53" y="604.6" textLength="63">SetEditable</text>
<rect class="g" x="712" y="610" width="66.67" height="14.67"/>
<text x="744.53" y="620.6" textLength="111">SetForegroundColor</text>
<rect class="g" x="712" y="626" width="66.67" height="14.67"/>
<text x="744.53" y="636.6" textLength="95">SetFrameElement</text>
<rect class="g" x="712" y="642" width="66.67" height="14.67"/>
<text x="744.53" y="652.6" textLength="55">SetHeight</text>
<rect class="g" x="712" y="658" width="66.67" height="14.67"/>
<text x="744.53" y="668.6" textLength="96">SetLayoutBroken</text>
<rect class="g" x="712" y="674" width="66.67" height="14.67"/>
<text x="744.53" y="684.6" textLength="80">SetMaxHeight</text>
<rect class="g" x="712" y="690" width="66.67" height="14.67"/>
<text x="744.53" y="700.6" textLength="77">SetMaxWidth</text>
<rect class="g" x="712" y="706" width="66.67" height="14.67"/>
<text x="744.53" y="716.6" textLength="78">SetMinHeight</text>
<rect class="g" x="712" y="722" width="66.67" height="14.67"/>
<text x="744.53" y="732.6" textLength="75">SetMinWidth</text>
<rect class="g" x="712" y="738" width="66.67" height="14.67"/>
<text x="744.53" y="748.6" textLength="40">SetSize</text>
<rect class="g" x="712" y="754" width="66.67" height="14.67"/>
<text x="744.53" y="764.6" textLength="52">SetWidth</text>
<rect class="g" x="712" y="770" width="66.67" height="14.67"/>
<text x="744.53" y="780.6" textLength="27">SetX</text>
<rect class="g" x="712" y="786" width="66.67" height="14.67"/>
<text x="744.53" y="796.6" textLength="27">SetY</text>
<rect class="x" x="712" y="802" width="66.67" height="14.67"/>
<text x="744.53" y="812.6" textLength="81">ShowMembers</text>
<rect class="y" x="712" y="818" width="66.67" height="14.67"/>
<text x="744.53" y="828.6" textLength="95">StartGuiBuilding</text>
<rect class="x" x="712" y="834" width="66.67" height="14.67"/>
<text x="744.53" y="844.6" textLength="47">Streamer</text>
<rect class="x" x="712" y="850" width="66.67" height="14.67"/>
<text x="744.53" y="860.6" textLength="96">StreamerNVirtual</text>
<rect class="g" x="712" y="866" width="66.67" height="14.67"/>
<text x="744.53" y="876.6" textLength="51">TGFrame</text>
<rect class="g" x="712" y="882" width="66.67" height="14.67"/>
<text x="744.53" y="892.6" textLength="88">UnmapWindow</text>
<rect class="x" x="712" y="898" width="66.67" height="14.67"/>
<text x="744.53" y="908.6" textLength="53">operator=</text>
<rect class="g" x="712" y="914" width="66.67" height="14.67"/>
<text x="744.53" y="924.6" textLength="58"><tspan dy="1.2">~</tspan><tspan dy="-1.2">TGFrame</tspan></text>
</g>
<g>
<rect class="b" x="480" y="16" width="221.33" height="399.77"/>
<text class="t" x="590.17" y="36" textLength="87">TGWindow</text>
<rect fill="#fff" x="478.5" y="45.4" width="224.33" height="4.6"/>
<rect fill="#fff" x="701.03" y="49" width="1.5" height="64.27"/>
<rect fill="#fff" x="701.03" y="145" width="1.5" height="272.27"/>
<rect class="y" x="634.67" y="50" width="66.67" height="14.67"/>
<text x="667.2" y="60.6" textLength="76">fEditDisabled</text>
<rect class="y" x="634.67" y="66" width="66.67" height="14.67"/>
<text x="667.2" y="76.6" textLength="36">fName</text>
<rect class="y" x="634.67" y="82" width="66.67" height="14.67"/>
<text x="667.2" y="92.6" textLength="75">fNeedRedraw</text>
<rect class="y" x="634.67" y="98" width="66.67" height="14.67"/>
<text x="667.2" y="108.6" textLength="38">fParent</text>
<rect class="x" x="634.67" y="146" width="66.67" height="14.67"/>
<text x="667.2" y="156.6" textLength="29">Class</text>
<rect class="x" x="634.67" y="162" width="66.67" height="14.67"/>
<text x="667.2" y="172.6" textLength="68">Class_Name</text>
<rect class="x" x="634.67" y="178" width="66.67" height="14.67"/>
<text x="667.2" y="188.6" textLength="79">Class_Version</text>
<rect class="x" x="634.67" y="194" width="66.67" height="14.67"/>
<text x="667.2" y="204.6" textLength="72">DeclFileLine</text>
<rect class="x" x="634.67" y="210" width="66.67" height="14.67"/>
<text x="667.2" y="220.6" textLength="79">DeclFileName</text>
<rect class="g" x="634.67" y="226" width="66.67" height="14.67"/>
<text x="667.2" y="236.6" textLength="114">DestroySubwindows</text>
<rect class="g" x="634.67" y="242" width="66.67" height="14.67"/>
<text x="667.2" y="252.6" textLength="91">DestroyWindow</text>
<rect class="x" x="634.67" y="258" width="66.67" height="14.67"/>
<text x="667.2" y="268.6" textLength="59">Dictionary</text>
<rect class="y" x="634.67" y="274" width="66.67" height="14.67"/>
<text x="667.2" y="284.6" textLength="59">DoRedraw</text>
<rect class="g" x="634.67" y="290" width="66.67" height="14.67"/>
<text x="667.2" y="300.6" textLength="64">GetCounter</text>
<rect class="g" x="634.67" y="306" width="66.67" height="14.67"/>
<text x="667.2" y="316.6" textLength="92">GetEditDisabled</text>
<rect class="g" x="634.67" y="322" width="66.67" height="14.67"/>
<text x="667.2" y="332.6" textLength="82">GetMainFrame</text>
<rect class="g" x="634.67" y="338" width="66.67" height="14.67"/>
<text x="667.2" y="348.6" textLength="52">GetName</text>
<rect class="g" x="634.67" y="354" width="66.67" height="14.67"/>
<text x="667.2" y="364.6" textLength="54">GetParent</text>
<rect class="g" x="634.67" y="370" width="66.67" height="14.67"/>
<text x="667.2" y="380.6" textLength="72">HandleEvent</text>
<rect class="g" x="634.67" y="386" width="66.67" height="14.67"/>
<text x="667.2" y="396.6" textLength="80">HandleExpose</text>
<rect class="g" x="634.67" y="402" width="66.67" height="14.67"/>
<text x="667.2" y="412.6" textLength="93">HandleIdleEvent</text>
<rect class="y" x="557.33" y="50" width="66.67" height="14.67"/>
<text x="589.87" y="60.6" textLength="55">fgCounter</text>
<rect class="p" x="557.33" y="66" width="66.67" height="14.67"/>
<text x="589.87" y="76.6" textLength="30">fgIsA</text>
<rect class="g" x="557.33" y="82" width="66.67" height="14.67"/>
<text x="589.87" y="92.6" textLength="72">kEditDisable</text>
<rect class="g" x="557.33" y="98" width="66.67" height="14.67"/>
<text x="589.87" y="108.6" textLength="130">kEditDisableBtnEnable</text>
<rect class="g" x="557.33" y="114" width="66.67" height="14.67"/>
<text x="589.87" y="124.6" textLength="109">kEditDisableEvents</text>
<rect class="g" x="557.33" y="130" width="66.67" height="14.67"/>
<text x="589.87" y="140.6" textLength="99">kEditDisableGrab</text>
<rect class="g" x="557.33" y="146" width="66.67" height="14.67"/>
<text x="589.87" y="156.6" textLength="72">HandleTimer</text>
<rect class="g" x="557.33" y="162" width="66.67" height="14.67"/>
<text x="589.87" y="172.6" textLength="87">IconifyWindow</text>
<rect class="x" x="557.33" y="178" width="66.67" height="14.67"/>
<text x="589.87" y="188.6" textLength="71">ImplFileLine</text>
<rect class="x" x="557.33" y="194" width="66.67" height="14.67"/>
<text x="589.87" y="204.6" textLength="78">ImplFileName</text>
<rect class="x" x="557.33" y="210" width="66.67" height="14.67"/>
<text x="589.87" y="220.6" textLength="19">IsA</text>
<rect class="g" x="557.33" y="226" width="66.67" height="14.67"/>
<text x="589.87" y="236.6" textLength="55">IsEditable</text>
<rect class="g" x="557.33" y="242" width="66.67" height="14.67"/>
<text x="589.87" y="252.6" textLength="105">IsMapSubwindows</text>
<rect class="g" x="557.33" y="258" width="66.67" height="14.67"/>
<text x="589.87" y="268.6" textLength="54">IsMapped</text>
<rect class="g" x="557.33" y="274" width="66.67" height="14.67"/>
<text x="589.87" y="284.6" textLength="83">LowerWindow</text>
<rect class="g" x="557.33" y="290" width="66.67" height="14.67"/>
<text x="589.87" y="300.6" textLength="62">MapRaised</text>
<rect class="g" x="557.33" y="306" width="66.67" height="14.67"/>
<text x="589.87" y="316.6" textLength="96">MapSubwindows</text>
<rect class="g" x="557.33" y="322" width="66.67" height="14.67"/>
<text x="589.87" y="332.6" textLength="73">MapWindow</text>
<rect class="g" x="557.33" y="338" width="66.67" height="14.67"/>
<text x="589.87" y="348.6" textLength="32">Move</text>
<rect class="g" x="557.33" y="354" width="66.67" height="14.67"/>
<text x="589.87" y="364.6" textLength="68">MoveResize</text>
<rect class="g" x="557.33" y="370" width="66.67" height="14.67"/>
<text x="589.87" y="380.6" textLength="74">MustCleanup</text>
<rect class="g" x="557.33" y="386" width="66.67" height="14.67"/>
<text x="589.87" y="396.6" textLength="26">Print</text>
<rect class="g" x="557.33" y="402" width="66.67" height="14.67"/>
<text x="589.87" y="412.6" textLength="78">RaiseWindow</text>
<rect fill="#fff" x="478.8" y="49" width="1.5" height="368.27"/>
<rect class="g" x="480" y="50" width="66.67" height="14.67"/>
<text x="512.53" y="60.6" textLength="110">kEditDisableHeight</text>
<rect class="g" x="480" y="66" width="66.67" height="14.67"/>
<text x="512.53" y="76.6" textLength="133">kEditDisableKeyEnable</text>
<rect class="g" x="480" y="82" width="66.67" height="14.67"/>
<text x="512.53" y="92.6" textLength="111">kEditDisableLayout</text>
<rect class="g" x="480" y="98" width="66.67" height="14.67"/>
<text x="512.53" y="108.6" textLength="108">kEditDisableResize</text>
<rect class="g" x="480" y="114" width="66.67" height="14.67"/>
<text x="512.53" y="124.6" textLength="107">kEditDisableWidth</text>
<rect class="g" x="480" y="130" width="66.67" height="14.67"/>
<text x="512.53" y="140.6" textLength="68">kEditEnable</text>
<rect class="g" x="480" y="146" width="66.67" height="14.67"/>
<text x="512.53" y="156.6" textLength="97">ReparentWindow</text>
<rect class="g" x="480" y="162" width="66.67" height="14.67"/>
<text x="512.53" y="172.6" textLength="76">RequestFocus</text>
<rect class="g" x="480" y="178" width="66.67" height="14.67"/>
<text x="512.53" y="188.6" textLength="36">Resize</text>
<rect class="g" x="480" y="194" width="66.67" height="14.67"/>
<text x="512.53" y="204.6" textLength="115">SetBackgroundColor</text>
<rect class="g" x="480" y="210" width="66.67" height="14.67"/>
<text x="512.53" y="220.6" textLength="125">SetBackgroundPixmap</text>
<rect class="g" x="480" y="226" width="66.67" height="14.67"/>
<text x="512.53" y="236.6" textLength="89">SetEditDisabled</text>
<rect class="g" x="480" y="242" width="66.67" height="14.67"/>
<text x="512.53" y="252.6" textLength="63">SetEditable</text>
<rect class="g" x="480" y="258" width="66.67" height="14.67"/>
<text x="512.53" y="268.6" textLength="113">SetMapSubwindows</text>
<rect class="g" x="480" y="274" width="66.67" height="14.67"/>
<text x="512.53" y="284.6" textLength="49">SetName</text>
<rect class="x" x="480" y="290" width="66.67" height="14.67"/>
<text x="512.53" y="300.6" textLength="97">SetWindowName</text>
<rect class="x" x="480" y="306" width="66.67" height="14.67"/>
<text x="512.53" y="316.6" textLength="81">ShowMembers</text>
<rect class="x" x="480" y="322" width="66.67" height="14.67"/>
<text x="512.53" y="332.6" textLength="47">Streamer</text>
<rect class="x" x="480" y="338" width="66.67" height="14.67"/>
<text x="512.53" y="348.6" textLength="96">StreamerNVirtual</text>
<rect class="g" x="480" y="354" width="66.67" height="14.67"/>
<text x="512.53" y="364.6" textLength="66">TGWindow</text>
<rect class="g" x="480" y="370" width="66.67" height="14.67"/>
<text x="512.53" y="380.6" textLength="88">UnmapWindow</text>
<rect class="x" x="480" y="386" width="66.67" height="14.67"/>
<text x="512.53" y="396.6" textLength="53">operator=</text>
<rect class="g" x="480" y="402" width="66.67" height="14.67"/>
<text x="512.53" y="412.6" textLength="73"><tspan dy="1.2">~</tspan><tspan dy="-1.2">TGWindow</tspan></text>
</g>
<g>
<rect class="b" x="248" y="16" width="221.33" height="159.77"/>
<text class="t" x="358.17" y="36" textLength="72">TGObject</text>
<rect fill="#fff" x="246.5" y="45.4" width="224.33" height="4.6"/>
<rect fill="#fff" x="469.03" y="49" width="1.5" height="112.27"/>
<rect class="y" x="402.67" y="50" width="66.67" height="14.67"/>
<text x="435.2" y="60.6" textLength="38">fClient</text>
<rect class="x" x="402.67" y="66" width="66.67" height="14.67"/>
<text x="435.2" y="76.6" textLength="29">Class</text>
<rect class="x" x="402.67" y="82" width="66.67" height="14.67"/>
<text x="435.2" y="92.6" textLength="68">Class_Name</text>
<rect class="x" x="402.67" y="98" width="66.67" height="14.67"/>
<text x="435.2" y="108.6" textLength="79">Class_Version</text>
<rect class="x" x="402.67" y="114" width="66.67" height="14.67"/>
<text x="435.2" y="124.6" textLength="72">DeclFileLine</text>
<rect class="x" x="402.67" y="130" width="66.67" height="14.67"/>
<text x="435.2" y="140.6" textLength="79">DeclFileName</text>
<rect class="x" x="402.67" y="146" width="66.67" height="14.67"/>
<text x="435.2" y="156.6" textLength="59">Dictionary</text>
<rect class="y" x="325.33" y="50" width="66.67" height="14.67"/>
<text x="357.87" y="60.6" textLength="15">fId</text>
<rect class="g" x="325.33" y="66" width="66.67" height="14.67"/>
<text x="357.87" y="76.6" textLength="54">GetClient</text>
<rect class="g" x="325.33" y="82" width="66.67" height="14.67"/>
<text x="357.87" y="92.6" textLength="31">GetId</text>
<rect class="g" x="325.33" y="98" width="66.67" height="14.67"/>
<text x="357.87" y="108.6" textLength="28">Hash</text>
<rect class="x" x="325.33" y="114" width="66.67" height="14.67"/>
<text x="357.87" y="124.6" textLength="71">ImplFileLine</text>
<rect class="x" x="325.33" y="130" width="66.67" height="14.67"/>
<text x="357.87" y="140.6" textLength="78">ImplFileName</text>
<rect class="x" x="325.33" y="146" width="66.67" height="14.67"/>
<text x="357.87" y="156.6" textLength="19">IsA</text>
<rect class="g" x="325.33" y="162" width="66.67" height="14.67"/>
<text x="357.87" y="172.6" textLength="41">IsEqual</text>
<rect fill="#fff" x="246.8" y="49" width="1.5" height="128.27"/>
<rect class="p" x="248" y="50" width="66.67" height="14.67"/>
<text x="280.53" y="60.6" textLength="30">fgIsA</text>
<rect class="g" x="248" y="66" width="66.67" height="14.67"/>
<text x="280.53" y="76.6" textLength="41">SaveAs</text>
<rect class="x" x="248" y="82" width="66.67" height="14.67"/>
<text x="280.53" y="92.6" textLength="81">ShowMembers</text>
<rect class="x" x="248" y="98" width="66.67" height="14.67"/>
<text x="280.53" y="108.6" textLength="47">Streamer</text>
<rect class="x" x="248" y="114" width="66.67" height="14.67"/>
<text x="280.53" y="124.6" textLength="96">StreamerNVirtual</text>
<rect class="g" x="248" y="130" width="66.67" height="14.67"/>
<text x="280.53" y="140.6" textLength="55">TGObject</text>
<rect class="x" x="248" y="146" width="66.67" height="14.67"/>
<text x="280.53" y="156.6" textLength="53">operator=</text>
<rect class="g" x="248" y="162" width="66.67" height="14.67"/>
<text x="280.53" y="172.6" textLength="62"><tspan dy="1.2">~</tspan><tspan dy="-1.2">TGObject</tspan></text>
</g>
<g>
<rect class="b" x="16" y="16" width="221.33" height="591.77"/>
<text class="t" x="126.17" y="36" textLength="59">TObject</text>
<rect fill="#fff" x="14.5" y="45.4" width="224.33" height="4.6"/>
<rect fill="#fff" x="237.03" y="49" width="1.5" height="96.27"/>
<rect fill="#fff" x="237.03" y="161" width="1.5" height="432.27"/>
<rect class="p" x="170.67" y="50" width="66.67" height="14.67"/>
<text x="203.2" y="60.6" textLength="26">fBits</text>
<rect class="p" x="170.67" y="66" width="66.67" height="14.67"/>
<text x="203.2" y="76.6" textLength="59">fUniqueID</text>
<rect class="p" x="170.67" y="82" width="66.67" height="14.67"/>
<text x="203.2" y="92.6" textLength="64">fgDtorOnly</text>
<rect class="p" x="170.67" y="98" width="66.67" height="14.67"/>
<text x="203.2" y="108.6" textLength="30">fgIsA</text>
<rect class="p" x="170.67" y="114" width="66.67" height="14.67"/>
<text x="203.2" y="124.6" textLength="69">fgObjectStat</text>
<rect class="g" x="170.67" y="130" width="66.67" height="14.67"/>
<text x="203.2" y="140.6" textLength="54">kBitMask</text>
<rect class="g" x="170.67" y="162" width="66.67" height="14.67"/>
<text x="203.2" y="172.6" textLength="89">AbstractMethod</text>
<rect class="g" x="170.67" y="178" width="66.67" height="14.67"/>
<text x="203.2" y="188.6" textLength="64">AppendPad</text>
<rect class="g" x="170.67" y="194" width="66.67" height="14.67"/>
<text x="203.2" y="204.6" textLength="41">Browse</text>
<rect class="x" x="170.67" y="210" width="66.67" height="14.67"/>
<text x="203.2" y="220.6" textLength="29">Class</text>
<rect class="g" x="170.67" y="226" width="66.67" height="14.67"/>
<text x="203.2" y="236.6" textLength="61">ClassName</text>
<rect class="x" x="170.67" y="242" width="66.67" height="14.67"/>
<text x="203.2" y="252.6" textLength="68">Class_Name</text>
<rect class="x" x="170.67" y="258" width="66.67" height="14.67"/>
<text x="203.2" y="268.6" textLength="79">Class_Version</text>
<rect class="g" x="170.67" y="274" width="66.67" height="14.67"/>
<text x="203.2" y="284.6" textLength="29">Clear</text>
<rect class="g" x="170.67" y="290" width="66.67" height="14.67"/>
<text x="203.2" y="300.6" textLength="33">Clone</text>
<rect class="g" x="170.67" y="306" width="66.67" height="14.67"/>
<text x="203.2" y="316.6" textLength="49">Compare</text>
<rect class="g" x="170.67" y="322" width="66.67" height="14.67"/>
<text x="203.2" y="332.6" textLength="30">Copy</text>
<rect class="x" x="170.67" y="338" width="66.67" height="14.67"/>
<text x="203.2" y="348.6" textLength="72">DeclFileLine</text>
<rect class="x" x="170.67" y="354" width="66.67" height="14.67"/>
<text x="203.2" y="364.6" textLength="79">DeclFileName</text>
<rect class="g" x="170.67" y="370" width="66.67" height="14.67"/>
<text x="203.2" y="380.6" textLength="36">Delete</text>
<rect class="x" x="170.67" y="386" width="66.67" height="14.67"/>
<text x="203.2" y="396.6" textLength="59">Dictionary</text>
<rect class="g" x="170.67" y="402" width="66.67" height="14.67"/>
<text x="203.2" y="412.6" textLength="109">DistancetoPrimitive</text>
<rect class="y" x="170.67" y="418" width="66.67" height="14.67"/>
<text x="203.2" y="428.6" textLength="44">DoError</text>
<rect class="g" x="170.67" y="434" width="66.67" height="14.67"/>
<text x="203.2" y="444.6" textLength="30">Draw</text>
<rect class="g" x="170.67" y="450" width="66.67" height="14.67"/>
<text x="203.2" y="460.6" textLength="59">DrawClass</text>
<rect class="g" x="170.67" y="466" width="66.67" height="14.67"/>
<text x="203.2" y="476.6" textLength="63">DrawClone</text>
<rect class="g" x="170.67" y="482" width="66.67" height="14.67"/>
<text x="203.2" y="492.6" textLength="34">Dump</text>
<rect class="g" x="170.67" y="498" width="66.67" height="14.67"/>
<text x="203.2" y="508.6" textLength="27">Error</text>
<rect class="g" x="170.67" y="514" width="66.67" height="14.67"/>
<text x="203.2" y="524.6" textLength="44">Execute</text>
<rect class="g" x="170.67" y="530" width="66.67" height="14.67"/>
<text x="203.2" y="540.6" textLength="76">ExecuteEvent</text>
<rect class="g" x="170.67" y="546" width="66.67" height="14.67"/>
<text x="203.2" y="556.6" textLength="27">Fatal</text>
<rect class="g" x="170.67" y="562" width="66.67" height="14.67"/>
<text x="203.2" y="572.6" textLength="62">FindObject</text>
<rect class="g" x="170.67" y="578" width="66.67" height="14.67"/>
<text x="203.2" y="588.6" textLength="89">GetDrawOption</text>
<rect class="g" x="93.33" y="50" width="66.67" height="14.67"/>
<text x="125.87" y="60.6" textLength="65">kCanDelete</text>
<rect class="g" x="93.33" y="66" width="66.67" height="14.67"/>
<text x="125.87" y="76.6" textLength="71">kCannotPick</text>
<rect class="g" x="93.33" y="82" width="66.67" height="14.67"/>
<text x="125.87" y="92.6" textLength="62">kHasUUID</text>
<rect class="g" x="93.33" y="98" width="66.67" height="14.67"/>
<text x="125.87" y="108.6" textLength="83">kInvalidObject</text>
<rect class="g" x="93.33" y="114" width="66.67" height="14.67"/>
<text x="125.87" y="124.6" textLength="62">kIsOnHeap</text>
<rect class="g" x="93.33" y="130" width="66.67" height="14.67"/>
<text x="125.87" y="140.6" textLength="77">kIsReferenced</text>
<rect class="g" x="93.33" y="146" width="66.67" height="14.67"/>
<text x="125.87" y="156.6" textLength="81">kMustCleanup</text>
<rect class="g" x="93.33" y="162" width="66.67" height="14.67"/>
<text x="125.87" y="172.6" textLength="73">GetDtorOnly</text>
<rect class="g" x="93.33" y="178" width="66.67" height="14.67"/>
<text x="125.87" y="188.6" textLength="76">GetIconName</text>
<rect class="g" x="93.33" y="194" width="66.67" height="14.67"/>
<text x="125.87" y="204.6" textLength="52">GetName</text>
<rect class="g" x="93.33" y="210" width="66.67" height="14.67"/>
<text x="125.87" y="220.6" textLength="79">GetObjectInfo</text>
<rect class="g" x="93.33" y="226" width="66.67" height="14.67"/>
<text x="125.87" y="236.6" textLength="78">GetObjectStat</text>
<rect class="g" x="93.33" y="242" width="66.67" height="14.67"/>
<text x="125.87" y="252.6" textLength="59">GetOption</text>
<rect class="g" x="93.33" y="258" width="66.67" height="14.67"/>
<text x="125.87" y="268.6" textLength="46">GetTitle</text>
<rect class="g" x="93.33" y="274" width="66.67" height="14.67"/>
<text x="125.87" y="284.6" textLength="75">GetUniqueID</text>
<rect class="g" x="93.33" y="290" width="66.67" height="14.67"/>
<text x="125.87" y="300.6" textLength="72">HandleTimer</text>
<rect class="g" x="93.33" y="306" width="66.67" height="14.67"/>
<text x="125.87" y="316.6" textLength="28">Hash</text>
<rect class="x" x="93.33" y="322" width="66.67" height="14.67"/>
<text x="125.87" y="332.6" textLength="71">ImplFileLine</text>
<rect class="x" x="93.33" y="338" width="66.67" height="14.67"/>
<text x="125.87" y="348.6" textLength="78">ImplFileName</text>
<rect class="g" x="93.33" y="354" width="66.67" height="14.67"/>
<text x="125.87" y="364.6" textLength="22">Info</text>
<rect class="g" x="93.33" y="370" width="66.67" height="14.67"/>
<text x="125.87" y="380.6" textLength="69">InheritsFrom</text>
<rect class="g" x="93.33" y="386" width="66.67" height="14.67"/>
<text x="125.87" y="396.6" textLength="39">Inspect</text>
<rect class="g" x="93.33" y="402" width="66.67" height="14.67"/>
<text x="125.87" y="412.6" textLength="49">InvertBit</text>
<rect class="x" x="93.33" y="418" width="66.67" height="14.67"/>
<text x="125.87" y="428.6" textLength="19">IsA</text>
<rect class="g" x="93.33" y="434" width="66.67" height="14.67"/>
<text x="125.87" y="444.6" textLength="41">IsEqual</text>
<rect class="g" x="93.33" y="450" width="66.67" height="14.67"/>
<text x="125.87" y="460.6" textLength="44">IsFolder</text>
<rect class="g" x="93.33" y="466" width="66.67" height="14.67"/>
<text x="125.87" y="476.6" textLength="55">IsOnHeap</text>
<rect class="g" x="93.33" y="482" width="66.67" height="14.67"/>
<text x="125.87" y="492.6" textLength="54">IsSortable</text>
<rect class="g" x="93.33" y="498" width="66.67" height="14.67"/>
<text x="125.87" y="508.6" textLength="51">IsZombie</text>
<rect class="y" x="93.33" y="514" width="66.67" height="14.67"/>
<text x="125.87" y="524.6" textLength="73">MakeZombie</text>
<rect class="g" x="93.33" y="530" width="66.67" height="14.67"/>
<text x="125.87" y="540.6" textLength="67">MayNotUse</text>
<rect class="g" x="93.33" y="546" width="66.67" height="14.67"/>
<text x="125.87" y="556.6" textLength="36">Notify</text>
<rect class="g" x="93.33" y="562" width="66.67" height="14.67"/>
<text x="125.87" y="572.6" textLength="49">Obsolete</text>
<rect class="g" x="93.33" y="578" width="66.67" height="14.67"/>
<text x="125.87" y="588.6" textLength="28">Paint</text>
<rect class="g" x="93.33" y="594" width="66.67" height="14.67"/>
<text x="125.87" y="604.6" textLength="21">Pop</text>
<rect fill="#fff" x="14.8" y="49" width="1.5" height="560.27"/>
<rect class="g" x="16" y="50" width="66.67" height="14.67"/>
<text x="48.53" y="60.6" textLength="100">kNoContextMenu</text>
<rect class="g" x="16" y="66" width="66.67" height="14.67"/>
<text x="48.53" y="76.6" textLength="71">kNotDeleted</text>
<rect class="g" x="16" y="82" width="66.67" height="14.67"/>
<text x="48.53" y="92.6" textLength="79">kObjInCanvas</text>
<rect class="g" x="16" y="98" width="66.67" height="14.67"/>
<text x="48.53" y="108.6" textLength="62">kOverwrite</text>
<rect class="g" x="16" y="114" width="66.67" height="14.67"/>
<text x="48.53" y="124.6" textLength="65">kSingleKey</text>
<rect class="g" x="16" y="130" width="66.67" height="14.67"/>
<text x="48.53" y="140.6" textLength="74">kWriteDelete</text>
<rect class="g" x="16" y="146" width="66.67" height="14.67"/>
<text x="48.53" y="156.6" textLength="49">kZombie</text>
<rect class="g" x="16" y="162" width="66.67" height="14.67"/>
<text x="48.53" y="172.6" textLength="26">Print</text>
<rect class="g" x="16" y="178" width="66.67" height="14.67"/>
<text x="48.53" y="188.6" textLength="28">Read</text>
<rect class="g" x="16" y="194" width="66.67" height="14.67"/>
<text x="48.53" y="204.6" textLength="99">RecursiveRemove</text>
<rect class="g" x="16" y="210" width="66.67" height="14.67"/>
<text x="48.53" y="220.6" textLength="47">ResetBit</text>
<rect class="g" x="16" y="226" width="66.67" height="14.67"/>
<text x="48.53" y="236.6" textLength="41">SaveAs</text>
<rect class="x" x="16" y="242" width="66.67" height="14.67"/>
<text x="48.53" y="252.6" textLength="76">SavePrimitive</text>
<rect class="g" x="16" y="258" width="66.67" height="14.67"/>
<text x="48.53" y="268.6" textLength="34">SetBit</text>
<rect class="g" x="16" y="274" width="66.67" height="14.67"/>
<text x="48.53" y="284.6" textLength="86">SetDrawOption</text>
<rect class="g" x="16" y="290" width="66.67" height="14.67"/>
<text x="48.53" y="300.6" textLength="70">SetDtorOnly</text>
<rect class="g" x="16" y="306" width="66.67" height="14.67"/>
<text x="48.53" y="316.6" textLength="75">SetObjectStat</text>
<rect class="g" x="16" y="322" width="66.67" height="14.67"/>
<text x="48.53" y="332.6" textLength="72">SetUniqueID</text>
<rect class="x" x="16" y="338" width="66.67" height="14.67"/>
<text x="48.53" y="348.6" textLength="81">ShowMembers</text>
<rect class="x" x="16" y="354" width="66.67" height="14.67"/>
<text x="48.53" y="364.6" textLength="47">Streamer</text>
<rect class="x" x="16" y="370" width="66.67" height="14.67"/>
<text x="48.53" y="380.6" textLength="96">StreamerNVirtual</text>
<rect class="g" x="16" y="386" width="66.67" height="14.67"/>
<text x="48.53" y="396.6" textLength="46">SysError</text>
<rect class="g" x="16" y="402" width="66.67" height="14.67"/>
<text x="48.53" y="412.6" textLength="45">TObject</text>
<rect class="g" x="16" y="418" width="66.67" height="14.67"/>
<text x="48.53" y="428.6" textLength="40">TestBit</text>
<rect class="g" x="16" y="434" width="66.67" height="14.67"/>
<text x="48.53" y="444.6" textLength="45">TestBits</text>
<rect class="g" x="16" y="450" width="66.67" height="14.67"/>
<text x="48.53" y="460.6" textLength="90">UseCurrentStyle</text>
<rect class="g" x="16" y="466" width="66.67" height="14.67"/>
<text x="48.53" y="476.6" textLength="48">Warning</text>
<rect class="g" x="16" y="482" width="66.67" height="14.67"/>
<text x="48.53" y="492.6" textLength="31">Write</text>
<rect class="g" x="16" y="498" width="66.67" height="14.67"/>
<text x="48.53" y="508.6" textLength="9">ls</text>
<rect class="g" x="16" y="514" width="66.67" height="14.67"/>
<text x="48.53" y="524.6" textLength="81">operator delete</text>
<rect class="g" x="16" y="530" width="66.67" height="14.67"/>
<text x="48.53" y="540.6" textLength="89">operator delete[]</text>
<rect class="g" x="16" y="546" width="66.67" height="14.67"/>
<text x="48.53" y="556.6" textLength="71">operator new</text>
<rect class="g" x="16" y="562" width="66.67" height="14.67"/>
<text x="48.53" y="572.6" textLength="79">operator new[]</text>
<rect class="x" x="16" y="578" width="66.67" height="14.67"/>
<text x="48.53" y="588.6" textLength="53">operator=</text>
<rect class="g" x="16" y="594" width="66.67" height="14.67"/>
<text x="48.53" y="604.6" textLength="52"><tspan dy="1.2">~</tspan><tspan dy="-1.2">TObject</tspan></text>
</g>
<g>
<rect class="b" x="480" y="528" width="221.33" height="287.77"/>
<text class="t" x="590.17" y="548" textLength="72">TQObject</text>
<rect fill="#fff" x="478.5" y="557.4" width="224.33" height="4.6"/>
<rect fill="#fff" x="701.03" y="561" width="1.5" height="16.27"/>
<rect fill="#fff" x="701.03" y="593" width="1.5" height="208.27"/>
<rect class="y" x="634.67" y="562" width="66.67" height="14.67"/>
<text x="667.2" y="572.6" textLength="108">fListOfConnections</text>
<rect class="g" x="634.67" y="594" width="66.67" height="14.67"/>
<text x="667.2" y="604.6" textLength="124">AreAllSignalsBlocked</text>
<rect class="g" x="634.67" y="610" width="66.67" height="14.67"/>
<text x="667.2" y="620.6" textLength="106">AreSignalsBlocked</text>
<rect class="g" x="634.67" y="626" width="66.67" height="14.67"/>
<text x="667.2" y="636.6" textLength="91">BlockAllSignals</text>
<rect class="g" x="634.67" y="642" width="66.67" height="14.67"/>
<text x="667.2" y="652.6" textLength="73">BlockSignals</text>
<rect class="g" x="634.67" y="658" width="66.67" height="14.67"/>
<text x="667.2" y="668.6" textLength="65">ChangedBy</text>
<rect class="y" x="634.67" y="674" width="66.67" height="14.67"/>
<text x="667.2" y="684.6" textLength="107">CheckConnectArgs</text>
<rect class="x" x="634.67" y="690" width="66.67" height="14.67"/>
<text x="667.2" y="700.6" textLength="29">Class</text>
<rect class="x" x="634.67" y="706" width="66.67" height="14.67"/>
<text x="667.2" y="716.6" textLength="68">Class_Name</text>
<rect class="x" x="634.67" y="722" width="66.67" height="14.67"/>
<text x="667.2" y="732.6" textLength="79">Class_Version</text>
<rect class="g" x="634.67" y="738" width="66.67" height="14.67"/>
<text x="667.2" y="748.6" textLength="130">CollectClassSignalLists</text>
<rect class="g" x="634.67" y="754" width="66.67" height="14.67"/>
<text x="667.2" y="764.6" textLength="46">Connect</text>
<rect class="y" x="634.67" y="770" width="66.67" height="14.67"/>
<text x="667.2" y="780.6" textLength="90">ConnectToClass</text>
<rect class="g" x="634.67" y="786" width="66.67" height="14.67"/>
<text x="667.2" y="796.6" textLength="59">Connected</text>
<rect class="y" x="557.33" y="562" width="66.67" height="14.67"/>
<text x="589.87" y="572.6" textLength="79">fListOfSignals</text>
<rect class="y" x="557.33" y="578" width="66.67" height="14.67"/>
<text x="589.87" y="588.6" textLength="90">fSignalsBlocked</text>
<rect class="x" x="557.33" y="594" width="66.67" height="14.67"/>
<text x="589.87" y="604.6" textLength="72">DeclFileLine</text>
<rect class="x" x="557.33" y="610" width="66.67" height="14.67"/>
<text x="589.87" y="620.6" textLength="79">DeclFileName</text>
<rect class="g" x="557.33" y="626" width="66.67" height="14.67"/>
<text x="589.87" y="636.6" textLength="56">Destroyed</text>
<rect class="x" x="557.33" y="642" width="66.67" height="14.67"/>
<text x="589.87" y="652.6" textLength="59">Dictionary</text>
<rect class="g" x="557.33" y="658" width="66.67" height="14.67"/>
<text x="589.87" y="668.6" textLength="62">Disconnect</text>
<rect class="g" x="557.33" y="674" width="66.67" height="14.67"/>
<text x="589.87" y="684.6" textLength="75">Disconnected</text>
<rect class="g" x="557.33" y="690" width="66.67" height="14.67"/>
<text x="589.87" y="700.6" textLength="26">Emit</text>
<rect class="g" x="557.33" y="706" width="66.67" height="14.67"/>
<text x="589.87" y="716.6" textLength="46">EmitVA</text>
<rect class="g" x="557.33" y="722" width="66.67" height="14.67"/>
<text x="589.87" y="732.6" textLength="124">GetListOfClassSignals</text>
<rect class="g" x="557.33" y="738" width="66.67" height="14.67"/>
<text x="589.87" y="748.6" textLength="124">GetListOfConnections</text>
<rect class="g" x="557.33" y="754" width="66.67" height="14.67"/>
<text x="589.87" y="764.6" textLength="95">GetListOfSignals</text>
<rect class="y" x="557.33" y="770" width="66.67" height="14.67"/>
<text x="589.87" y="780.6" textLength="57">GetSender</text>
<rect class="y" x="557.33" y="786" width="66.67" height="14.67"/>
<text x="589.87" y="796.6" textLength="118">GetSenderClassName</text>
<rect class="g" x="557.33" y="802" width="66.67" height="14.67"/>
<text x="589.87" y="812.6" textLength="85">HasConnection</text>
<rect fill="#fff" x="478.8" y="561" width="1.5" height="256.27"/>
<rect class="y" x="480" y="562" width="66.67" height="14.67"/>
<text x="512.53" y="572.6" textLength="115">fgAllSignalsBlocked</text>
<rect class="p" x="480" y="578" width="66.67" height="14.67"/>
<text x="512.53" y="588.6" textLength="30">fgIsA</text>
<rect class="g" x="480" y="594" width="66.67" height="14.67"/>
<text x="512.53" y="604.6" textLength="69">HighPriority</text>
<rect class="x" x="480" y="610" width="66.67" height="14.67"/>
<text x="512.53" y="620.6" textLength="71">ImplFileLine</text>
<rect class="x" x="480" y="626" width="66.67" height="14.67"/>
<text x="512.53" y="636.6" textLength="78">ImplFileName</text>
<rect class="x" x="480" y="642" width="66.67" height="14.67"/>
<text x="512.53" y="652.6" textLength="19">IsA</text>
<rect class="g" x="480" y="658" width="66.67" height="14.67"/>
<text x="512.53" y="668.6" textLength="66">LowPriority</text>
<rect class="g" x="480" y="674" width="66.67" height="14.67"/>
<text x="512.53" y="684.6" textLength="47">Message</text>
<rect class="g" x="480" y="690" width="66.67" height="14.67"/>
<text x="512.53" y="700.6" textLength="127">NumberOfConnections</text>
<rect class="g" x="480" y="706" width="66.67" height="14.67"/>
<text x="512.53" y="716.6" textLength="98">NumberOfSignals</text>
<rect class="x" x="480" y="722" width="66.67" height="14.67"/>
<text x="512.53" y="732.6" textLength="81">ShowMembers</text>
<rect class="x" x="480" y="738" width="66.67" height="14.67"/>
<text x="512.53" y="748.6" textLength="47">Streamer</text>
<rect class="x" x="480" y="754" width="66.67" height="14.67"/>
<text x="512.53" y="764.6" textLength="96">StreamerNVirtual</text>
<rect class="g" x="480" y="770" width="66.67" height="14.67"/>
<text x="512.53" y="780.6" textLength="55">TQObject</text>
<rect class="x" x="480" y="786" width="66.67" height="14.67"/>
<text x="512.53" y="796.6" textLength="53">operator=</text>
<rect class="g" x="480" y="802" width="66.67" height="14.67"/>
<text x="512.53" y="812.6" textLength="62"><tspan dy="1.2">~</tspan><tspan dy="-1.2">TQObject</tspan></text>
</g>
<g>
<polygon class="a" points="237.73,47.8 250.13,43.35 250.13,52.25"/>
<polygon class="a" points="469.73,47.8 482.13,43.35 482.13,52.25"/>
<polygon class="a" points="701.73,47.8 714.13,43.35 714.13,52.25"/>
<polygon class="a" points="933.73,47.8 946.13,43.35 946.13,52.25"/>
<polygon class="a" points="1165.73,47.8 1178.13,43.35 1178.13,52.25"/>
<path class="e" d="M711.8,52.7 C704.5,85 703.3,150 702.3,240 L702.4,385 C702.4,420 691.5,472 681.4,515.4"/>
<polygon class="a" points="678.33,527.6 677.08,514.31 685.72,516.49"/>
<path class="e" d="M1175.8,52.7 C1168.5,85 1167.3,150 1166.3,240 L1166.2,400 C1166.2,440 1151.3,520 1142.3,571.7"/>
<polygon class="a" points="1140.2,583.4 1137.92,570.91 1146.68,572.49"/>
</g>
</svg>
</body>
</html>
